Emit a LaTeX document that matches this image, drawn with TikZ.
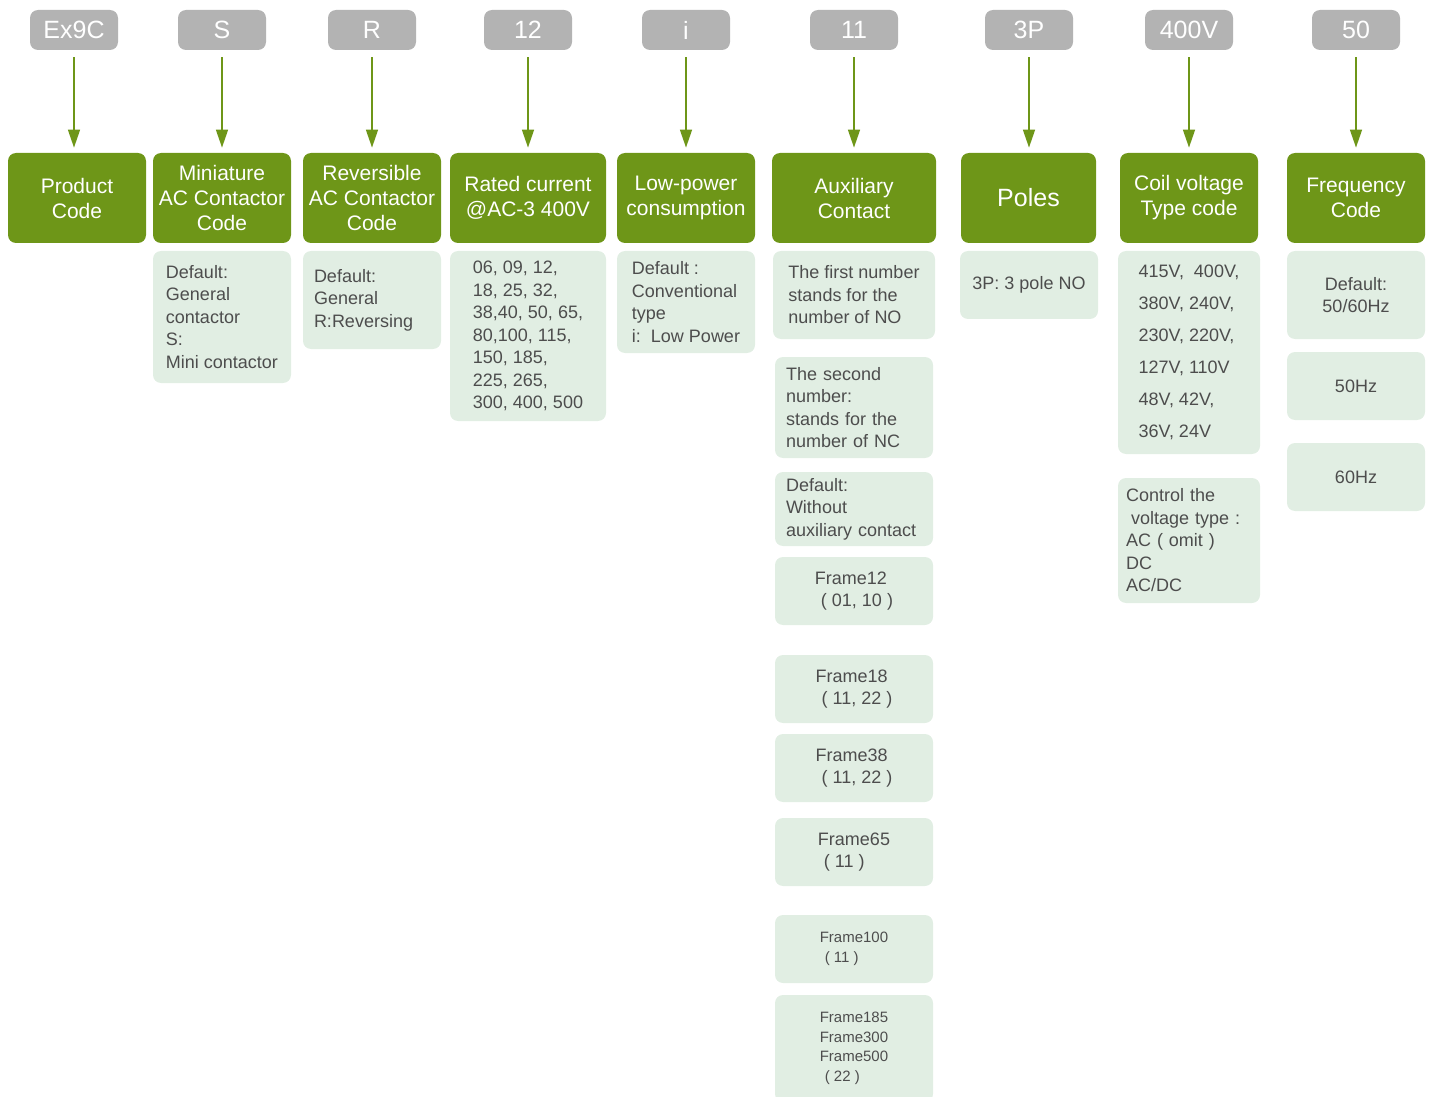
\documentclass[tikz,border=0pt]{standalone}
\usepackage{fontspec}
\setmainfont{Liberation Sans}
\usetikzlibrary{arrows.meta}
\definecolor{codegrey}{HTML}{B3B3B3}
\definecolor{headgreen}{HTML}{6E9618}
\definecolor{notegreen}{HTML}{E1EEE3}
\definecolor{notetext}{HTML}{4D4D4D}
\begin{document}
\begin{tikzpicture}[x=0.5pt,y=-0.5pt,
every node/.style={inner sep=0pt,rounded corners=4pt},
codebox/.style={fill=codegrey,text=white,minimum width=44pt,minimum height=20pt,font=\fontsize{12.5}{15}\selectfont},
headbox/.style={fill=headgreen,text=white,minimum height=45pt,align=center,font=\fontsize{10.5}{12.5}\selectfont},
notebox/.style={fill=notegreen,text=notetext,align=left,font=\fontsize{9}{11.25}\selectfont},
smallnote/.style={notebox,font=\fontsize{7.5}{9.75}\selectfont},
arrowstyle/.style={headgreen,line width=0.8pt,-{Triangle[width=6pt,length=9pt]},shorten <=3.5pt,shorten >=2.5pt}]

\useasboundingbox (0,0) rectangle (1432,1097);

\node[codebox] (ex9c) at (74,30) {Ex9C};
\node[codebox] (s) at (222,30) {S};
\node[codebox] (r) at (372,30) {R};
\node[codebox] (twelve) at (528,30) {12};
\node[codebox] (i) at (686,30) {i};
\node[codebox] (eleven) at (854,30) {11};
\node[codebox] (threep) at (1029,30) {3P};
\node[codebox] (volt) at (1189,30) {400V};
\node[codebox] (fifty) at (1356,30) {50};

\node[headbox,minimum width=69pt] (product) at (77,198) {Product\\Code};
\node[headbox,minimum width=69pt] (mini) at (222,198) {Miniature\\AC Contactor\\Code};
\node[headbox,minimum width=69pt] (rev) at (372,198) {Reversible\\AC Contactor\\Code};
\node[headbox,minimum width=78pt] (rated) at (528,198) {Rated current\\@AC-3 400V};
\node[headbox,minimum width=69pt] (low) at (686,198) {Low-power\\consumption};
\node[headbox,minimum width=82pt] (aux) at (854,198) {Auxiliary\\Contact};
\node[headbox,minimum width=67.5pt,font=\fontsize{12.5}{15}\selectfont] (poles) at (1028.5,198) {Poles};
\node[headbox,minimum width=69pt] (coil) at (1189,198) {Coil voltage\\Type code};
\node[headbox,minimum width=69pt] (freq) at (1356,198) {Frequency\\Code};

\foreach \c/\h in {ex9c/product,s/mini,r/rev,twelve/rated,i/low,eleven/aux,threep/poles,volt/coil,fifty/freq}
  \draw[arrowstyle] (\c) -- (\c |- \h.north);

% explanations below each heading
\node[notebox,minimum width=69pt,minimum height=66pt] (minidef) at (222,317) {Default:\\General\\contactor\\S:\\Mini contactor};
\node[notebox,minimum width=69pt,minimum height=49pt,text width=58pt] (revdef) at (372,300) {Default:\\General\\R:Reversing};
\node[notebox,minimum width=78pt,minimum height=85pt] (ratedlist) at (528,336) {06, 09, 12,\\18, 25, 32,\\38,40, 50, 65,\\80,100, 115,\\150, 185,\\225, 265,\\300, 400, 500};
\node[notebox,minimum width=69pt,minimum height=51pt] (lowdef) at (686,302) {Default\ :\\Conventional\\type\\i:\ \ Low Power};

\node[notebox,minimum width=81pt,minimum height=44pt] (auxno) at (854,295) {The first number\\stands for the\\number of NO};
\node[notebox,minimum width=79pt,minimum height=50.5pt,text width=68pt] (auxnc) at (854,407.5) {The second\\number:\\stands for the\\number of NC};
\node[notebox,minimum width=79pt,minimum height=37pt,text width=68pt] (auxdef) at (854,509) {Default:\\Without\\auxiliary contact};
\node[notebox,minimum width=79pt,minimum height=34pt] (frame12) at (854,591) {Frame12\\\hspace*{3pt}( 01, 10 )};
\node[notebox,minimum width=79pt,minimum height=34pt] (frame18) at (854,689) {Frame18\\\hspace*{3pt}( 11, 22 )};
\node[notebox,minimum width=79pt,minimum height=34pt] (frame38) at (854,768) {Frame38\\\hspace*{3pt}( 11, 22 )};
\node[notebox,minimum width=79pt,minimum height=34pt] (frame65) at (854,852) {Frame65\\\hspace*{3pt}( 11 )};
\node[smallnote,minimum width=79pt,minimum height=34pt] (frame100) at (854,949) {Frame100\\\hspace*{2.5pt}( 11 )};
\node[smallnote,minimum width=79pt,minimum height=53.5pt] (frame185) at (854,1048.5) {Frame185\\Frame300\\Frame500\\\hspace*{2.5pt}( 22 )};

\node[notebox,minimum width=69pt,minimum height=34pt,align=center] (polesno) at (1029,285) {3P: 3 pole NO};

\node[notebox,minimum width=71pt,minimum height=101.5pt,font=\fontsize{9}{16}\selectfont] (coilvolt) at (1189,352.5) {415V,\ \ 400V,\\380V, 240V,\\230V, 220V,\\127V, 110V\\48V, 42V,\\36V, 24V};
\node[notebox,minimum width=71pt,minimum height=62.5pt,text width=63pt] (coiltype) at (1189,540.5) {Control the\\\hspace*{2.5pt}voltage type\ :\\AC ( omit )\\DC\\AC/DC};

\node[notebox,minimum width=69pt,minimum height=44pt,align=center] (freqdef) at (1356,295) {Default:\\50/60Hz};
\node[notebox,minimum width=69pt,minimum height=34pt] (freq50) at (1356,386) {50Hz};
\node[notebox,minimum width=69pt,minimum height=34pt] (freq60) at (1356,477) {60Hz};

\end{tikzpicture}
\end{document}
